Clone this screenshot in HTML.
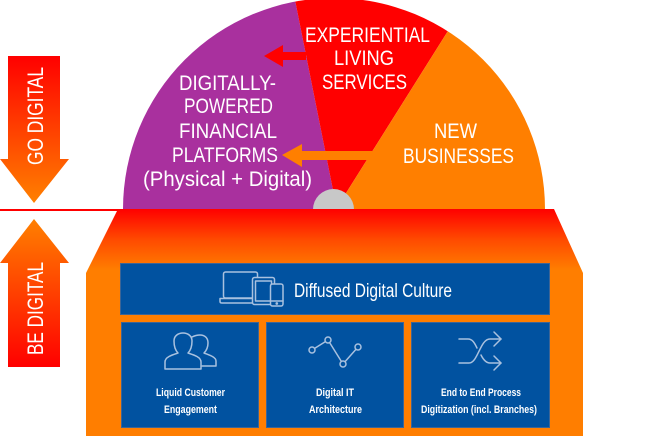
<!DOCTYPE html>
<html><head><meta charset="utf-8"><style>
html,body{margin:0;padding:0;background:#fff;}
svg{display:block;}
text{font-family:"Liberation Sans",sans-serif;}
</style></head><body>
<svg width="660" height="436" viewBox="0 0 660 436" xmlns="http://www.w3.org/2000/svg">
<defs>
<clipPath id="semi"><path d="M123,209 A211,211 0 0 1 545,209 Z"/></clipPath>
<linearGradient id="house" x1="0" y1="209" x2="0" y2="270" gradientUnits="userSpaceOnUse">
<stop offset="0" stop-color="#ff0000"/><stop offset="0.5" stop-color="#ff4a00"/><stop offset="1" stop-color="#ff7e00"/></linearGradient>
<linearGradient id="go" x1="0" y1="56" x2="0" y2="203" gradientUnits="userSpaceOnUse">
<stop offset="0" stop-color="#ff0000"/><stop offset="1" stop-color="#ff8000"/></linearGradient>
<linearGradient id="be" x1="0" y1="219" x2="0" y2="367" gradientUnits="userSpaceOnUse">
<stop offset="0" stop-color="#ff8000"/><stop offset="1" stop-color="#ff0000"/></linearGradient>
</defs>

<!-- semicircle sectors -->
<g clip-path="url(#semi)">
<polygon points="100,209 100,-20 291,-20 336.8,209" fill="#a9309e"/>
<polygon points="291,-20 480,-20 336,209 336.8,209" fill="#ff0000"/>
<polygon points="480,-20 600,-20 600,209 336,209" fill="#ff7f00"/>
</g>
<path d="M313,209.5 A20.5,20.5 0 0 1 354,209.5 Z" fill="#c8c8c8"/>

<!-- semicircle arrows -->
<polygon points="264,56 283,45 283,52 306,52 306,60 283,60 283,67" fill="#ff0000"/>
<polygon points="282,155 302,144 302,151 376,151 376,160 302,160 302,167" fill="#ff7f00"/>

<!-- semicircle text -->
<g fill="#fff" font-size="21" text-anchor="middle">
<text x="367.5" y="42" textLength="125" lengthAdjust="spacingAndGlyphs">EXPERIENTIAL</text>
<text x="364" y="65" textLength="60" lengthAdjust="spacingAndGlyphs">LIVING</text>
<text x="364.5" y="89" textLength="85" lengthAdjust="spacingAndGlyphs">SERVICES</text>
<text x="455.5" y="138" textLength="43" lengthAdjust="spacingAndGlyphs">NEW</text>
<text x="458.5" y="163" textLength="111" lengthAdjust="spacingAndGlyphs">BUSINESSES</text>
<text x="227.5" y="90" textLength="97" lengthAdjust="spacingAndGlyphs">DIGITALLY-</text>
<text x="228.5" y="113" textLength="89" lengthAdjust="spacingAndGlyphs">POWERED</text>
<text x="228" y="138" textLength="98" lengthAdjust="spacingAndGlyphs">FINANCIAL</text>
<text x="225" y="162" textLength="106" lengthAdjust="spacingAndGlyphs">PLATFORMS</text>
<text x="227.5" y="186" textLength="169" lengthAdjust="spacingAndGlyphs">(Physical + Digital)</text>
</g>

<!-- divider line -->
<rect x="0" y="209" width="120" height="2" fill="#ff0000"/>

<!-- house -->
<polygon points="118,209 554,209 583,273 583,436 86,436 86,273" fill="url(#house)"/>

<!-- left arrows -->
<polygon points="8,56 60,56 60,159 69,159 34,203 0,159 8,159" fill="url(#go)"/>
<polygon points="34,219 69,263 60,263 60,367 8,367 8,263 0,263" fill="url(#be)"/>
<g fill="#fff" font-size="22" text-anchor="middle">
<text transform="translate(43,116) rotate(-90)" x="0" y="0" textLength="98" lengthAdjust="spacingAndGlyphs">GO DIGITAL</text>
<text transform="translate(43,308.5) rotate(-90)" x="0" y="0" textLength="93" lengthAdjust="spacingAndGlyphs">BE DIGITAL</text>
</g>

<!-- blue boxes -->
<g fill="#0152a0" stroke="#3d6596" stroke-width="1">
<rect x="120.5" y="263.5" width="429" height="51"/>
<rect x="121.5" y="322.5" width="137" height="105"/>
<rect x="266.5" y="322.5" width="137" height="105"/>
<rect x="411.5" y="322.5" width="138" height="105"/>
</g>

<!-- icons -->
<g fill="none" stroke="#a9c1df" stroke-width="1.5" stroke-linejoin="round" stroke-linecap="round">
<!-- devices -->
<rect x="223.5" y="272" width="34" height="26" rx="2"/>
<path d="M220,298.5 H256 V301.5 Q256,303 254,303 H222 Q220,303 220,301.5 Z"/>
<rect x="252.5" y="277.5" width="22" height="27" rx="2" fill="#0152a0"/>
<rect x="255.5" y="281" width="16" height="20"/>
<rect x="270.5" y="284" width="12.5" height="22" rx="2" fill="#0152a0"/>
<line x1="271" y1="301" x2="283" y2="301"/>
<circle cx="276.8" cy="303.5" r="0.6" fill="#a9c1df"/>
<!-- people -->
<path d="M192,337 C194,336 197,335 200,335 C205,335 208,338 208,343 C208,348 206,351 204,353 C209,355 216,357 216,361 V366 H202"/>
<path d="M165,369 V362 C165,357 172,355 178,353 C175,350 174,346 174,341 C174,336 178,333 183,333 C188,333 192,336 192,341 C192,346 191,350 188,353 C194,355 201,357 201,362 V369 Z" fill="#0152a0"/>
<!-- graph -->
<polyline points="312,350 328,340 343,364 358,347"/>
<circle cx="312" cy="350" r="3" fill="#0152a0"/>
<circle cx="328" cy="340" r="3" fill="#0152a0"/>
<circle cx="343" cy="364" r="3" fill="#0152a0"/>
<circle cx="358" cy="347" r="3" fill="#0152a0"/>
<!-- shuffle -->
<path d="M459,363 H469 C478,363 480,339 490,339 H501"/>
<path d="M459,339 H468 C473,339 475,344 477,348"/>
<path d="M481,355 C483,359 486,363 490,363 H501"/>
<polyline points="494,332 501,339 494,346"/>
<polyline points="494,356 501,363 494,370"/>
</g>

<!-- box text -->
<g fill="#fff" text-anchor="middle">
<text x="373" y="297" font-size="19" textLength="158" lengthAdjust="spacingAndGlyphs">Diffused Digital Culture</text>
<g font-size="11" font-weight="bold">
<text x="190.5" y="396" textLength="69" lengthAdjust="spacingAndGlyphs">Liquid Customer</text>
<text x="190.5" y="413" textLength="53" lengthAdjust="spacingAndGlyphs">Engagement</text>
<text x="335" y="396" textLength="38" lengthAdjust="spacingAndGlyphs">Digital IT</text>
<text x="335.5" y="413" textLength="53" lengthAdjust="spacingAndGlyphs">Architecture</text>
<text x="481" y="396" textLength="80" lengthAdjust="spacingAndGlyphs">End to End Process</text>
<text x="479" y="413" textLength="116" lengthAdjust="spacingAndGlyphs">Digitization (incl. Branches)</text>
</g>
</g>
</svg>
</body></html>
